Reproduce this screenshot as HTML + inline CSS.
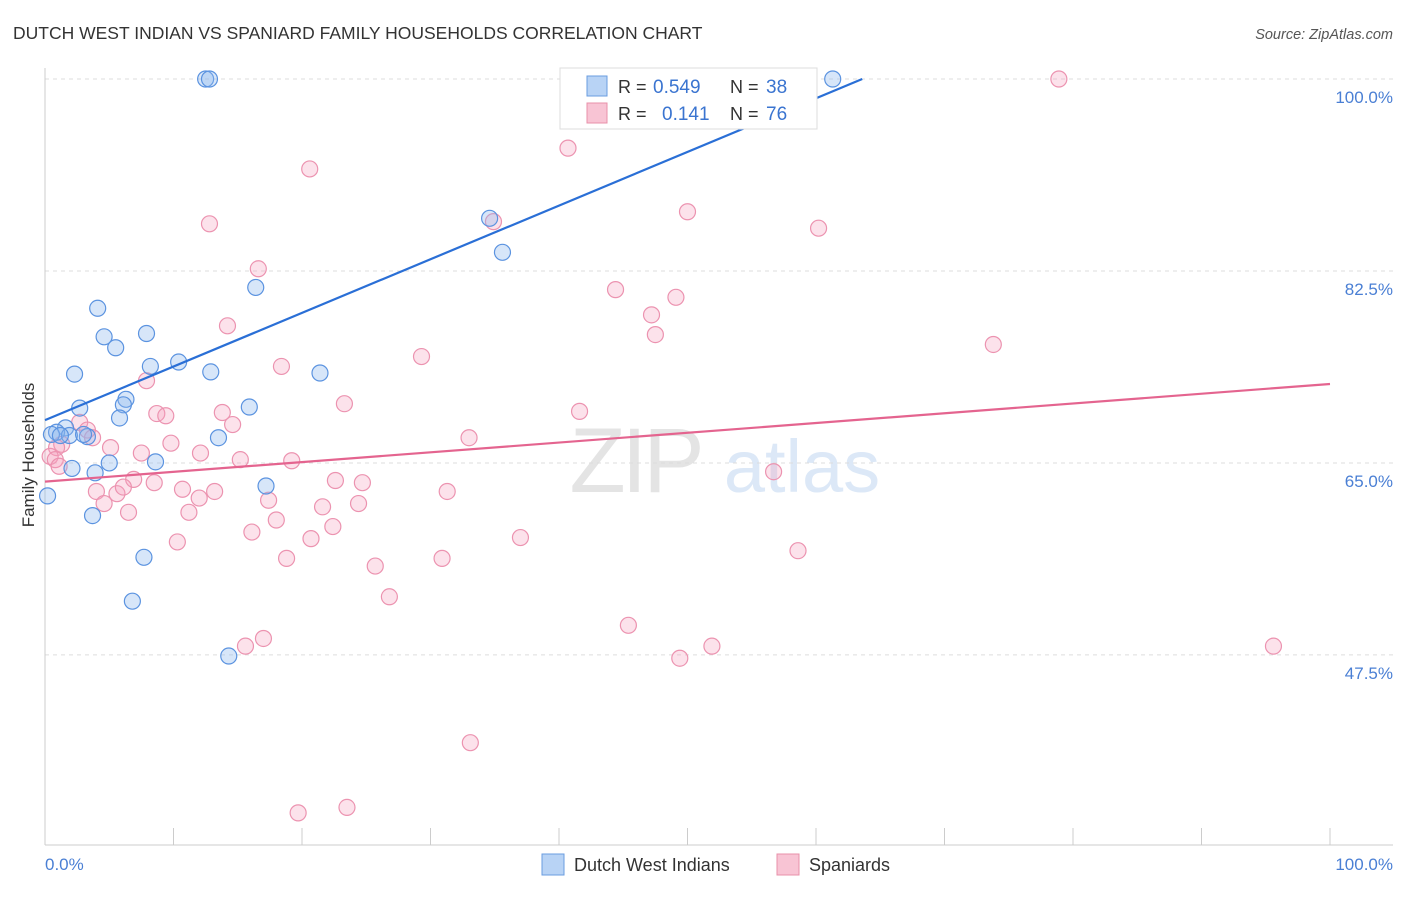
<!DOCTYPE html>
<html><head><meta charset="utf-8"><style>
body{margin:0;background:#fff;font-family:"Liberation Sans",sans-serif;}
svg text{font-family:"Liberation Sans",sans-serif;}
</style></head><body>
<svg id="chart" width="1406" height="892" viewBox="0 0 1406 892">
<text x="13" y="39" font-size="17.5" fill="#333">DUTCH WEST INDIAN VS SPANIARD FAMILY HOUSEHOLDS CORRELATION CHART</text>
<text x="1393" y="39" font-size="14.5" fill="#555" font-style="italic" text-anchor="end">Source: ZipAtlas.com</text>
<g>
<text x="635" y="492" font-size="92" fill="#e4e4e4" font-family="Liberation Serif" text-anchor="middle" letter-spacing="-4">ZIP</text>
<text x="802" y="492" font-size="74" fill="#dce8f7" text-anchor="middle">atlas</text>
</g>
<g id="grid"></g>
<g id="axes"></g>
<g id="pts"></g>
<g id="lines"></g>
<text transform="translate(34,455) rotate(-90)" font-size="17" fill="#333" text-anchor="middle">Family Households</text>
<text x="45" y="870" font-size="17" fill="#4a7fd4">0.0%</text>
<text x="1393" y="870" font-size="17" fill="#4a7fd4" text-anchor="end">100.0%</text>
<g>
<rect x="560" y="68" width="257" height="61" fill="#fff" stroke="#ddd"/>
<rect x="587" y="76" width="20" height="20" fill="#b8d3f5" stroke="#6a9de0"/>
<text x="618" y="93" font-size="18" fill="#333">R = </text><text x="653" y="93" font-size="19" fill="#3a74d0">0.549</text>
<text x="730" y="93" font-size="18" fill="#333">N = </text><text x="766" y="93" font-size="19" fill="#3a74d0">38</text>
<rect x="587" y="103" width="20" height="20" fill="#f8c4d4" stroke="#e890aa"/>
<text x="618" y="120" font-size="18" fill="#333">R = </text><text x="662" y="120" font-size="19" fill="#3a74d0">0.141</text>
<text x="730" y="120" font-size="18" fill="#333">N = </text><text x="766" y="120" font-size="19" fill="#3a74d0">76</text>
</g>
<g>
<rect x="542" y="854" width="22" height="21" fill="#b8d3f5" stroke="#6a9de0"/>
<text x="574" y="871" font-size="18" fill="#333">Dutch West Indians</text>
<rect x="777" y="854" width="22" height="21" fill="#f8c4d4" stroke="#e890aa"/>
<text x="809" y="871" font-size="18" fill="#333">Spaniards</text>
</g>
</svg>
<script>
const blueX=[12.5,12.8,61.3,34.6,35.6,16.4,4.1,4.6,7.9,5.5,8.2,10.4,2.3,12.9,21.4,6.3,6.1,2.7,15.9,5.8,1.6,0.9,0.5,3.3,1.9,13.5,5.0,8.6,2.1,3.9,0.2,17.2,3.7,7.7,6.8,14.3,1.2,3.0];
const blueY=[100,100,100,87.3,84.2,81.0,79.1,76.5,76.8,75.5,73.8,74.2,73.1,73.3,73.2,70.8,70.3,70.0,70.1,69.1,68.2,67.8,67.6,67.4,67.5,67.3,65.0,65.1,64.5,64.1,62.0,62.9,60.2,56.4,52.4,47.4,67.5,67.6];
const pinkX=[78.9,40.7,20.6,50.0,34.9,12.8,60.2,16.6,44.4,49.1,47.2,14.2,47.5,73.8,29.3,18.4,7.9,23.3,41.6,8.7,9.4,13.8,14.6,33.0,2.7,3.3,3.7,1.3,0.9,0.4,0.8,5.1,9.8,7.5,12.1,15.2,19.2,6.9,8.5,22.6,24.7,56.7,10.7,13.2,4.0,5.6,6.1,31.3,4.6,12.0,17.4,21.6,24.4,6.5,11.2,18.0,22.4,16.1,37.0,10.3,20.7,18.8,30.9,25.7,58.6,26.8,45.4,17.0,15.6,51.9,49.4,95.6,33.1,19.7,23.5,1.1];
const pinkY=[100,93.7,91.8,87.9,87.0,86.8,86.4,82.7,80.8,80.1,78.5,77.5,76.7,75.8,74.7,73.8,72.5,70.4,69.7,69.5,69.3,69.6,68.5,67.3,68.7,68.0,67.3,66.7,66.4,65.6,65.3,66.4,66.8,65.9,65.9,65.3,65.2,63.5,63.2,63.4,63.2,64.2,62.6,62.4,62.4,62.2,62.8,62.4,61.3,61.8,61.6,61.0,61.3,60.5,60.5,59.8,59.2,58.7,58.2,57.8,58.1,56.3,56.3,55.6,57.0,52.8,50.2,49.0,48.3,48.3,47.2,48.3,39.5,33.1,33.6,64.7];
const yTicks=[100,82.5,65,47.5];
const yTickLabels=["100.0%","82.5%","65.0%","47.5%"];
const blueFit=[68.9,0.489];
const pinkFit=[63.3,0.089];
const NS="http://www.w3.org/2000/svg";
function sx(v){return 45+v*12.85;}
function sy(v){return 79+(100-v)*10.97;}
function mk(t,a,p){const e=document.createElementNS(NS,t);for(const k in a)e.setAttribute(k,a[k]);p.appendChild(e);return e;}
const grid=document.getElementById('grid'),axes=document.getElementById('axes'),pts=document.getElementById('pts'),lines=document.getElementById('lines');
yTicks.forEach((t,i)=>{
 const l=mk('line',{x1:45,x2:1393,y1:sy(t),y2:sy(t),stroke:'#ddd','stroke-dasharray':'4,4'},grid);
 
 
 const tx=mk('text',{x:1393,y:sy(t)+24,'font-size':17,fill:'#4a7fd4','text-anchor':'end'},grid);
 tx.textContent=yTickLabels[i];
 
 
});
mk('line',{x1:45,x2:45,y1:68,y2:845,stroke:'#ccc'},axes);
mk('line',{x1:45,x2:1393,y1:845,y2:845,stroke:'#ccc'},axes);
for(let i=0;i<=10;i++){const l=mk('line',{x1:sx(i*10),x2:sx(i*10),y1:828,y2:845,stroke:'#ccc'},axes);
 
 }
pinkX.forEach((x,i)=>{const c=mk('circle',{cx:sx(x),cy:sy(pinkY[i]),r:8,fill:'rgba(244,160,188,0.3)',stroke:'#ec93b0','stroke-width':1.2},pts);
 
 });
blueX.forEach((x,i)=>{const c=mk('circle',{cx:sx(x),cy:sy(blueY[i]),r:8,fill:'rgba(140,182,238,0.35)',stroke:'#5b93e0','stroke-width':1.2},pts);
 
 });
const bEnd=Math.min(100,(100-blueFit[0])/blueFit[1]);
const bl=mk('line',{x1:sx(0),y1:sy(blueFit[0]),x2:sx(bEnd),y2:sy(blueFit[0]+blueFit[1]*bEnd),stroke:'#2a6fd6','stroke-width':2.2},lines);


const pl=mk('line',{x1:sx(0),y1:sy(pinkFit[0]),x2:sx(100),y2:sy(pinkFit[0]+pinkFit[1]*100),stroke:'#e4648f','stroke-width':2.2},lines);


</script>
</body></html>
